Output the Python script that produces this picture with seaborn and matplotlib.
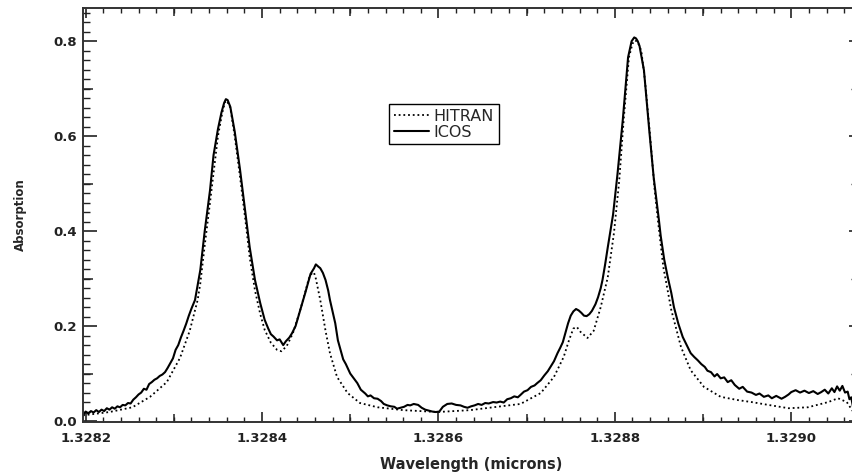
import matplotlib
matplotlib.use('Agg')
import numpy as np
import pandas as pd
import matplotlib.pyplot as plt
from matplotlib.ticker import MultipleLocator, FormatStrFormatter, FixedLocator
import seaborn as sns

# wavelength (microns) and absorption
icos_wl = [
    1.328197, 1.328200, 1.328203, 1.328206, 1.328209, 1.328212, 1.328215, 1.328218,
    1.328221, 1.328224, 1.328227, 1.328230, 1.328233, 1.328236, 1.328239, 1.328242,
    1.328245, 1.328248, 1.328251, 1.328254, 1.328257, 1.328260, 1.328263, 1.328266,
    1.328269, 1.328272, 1.328275, 1.328278, 1.328281, 1.328284, 1.328287, 1.328290,
    1.328293, 1.328296, 1.328299, 1.328302, 1.328305, 1.328308, 1.328311, 1.328314,
    1.328317, 1.328320, 1.328324, 1.328330, 1.328335, 1.328341, 1.328345, 1.328350,
    1.328354, 1.328357, 1.328359, 1.328361, 1.328364, 1.328369, 1.328375, 1.328381,
    1.328386, 1.328392, 1.328398, 1.328403, 1.328407, 1.328410, 1.328413, 1.328417,
    1.328420, 1.328424, 1.328427, 1.328431, 1.328434, 1.328438, 1.328443, 1.328449,
    1.328455, 1.328459, 1.328461, 1.328464, 1.328466, 1.328469, 1.328472, 1.328475,
    1.328477, 1.328480, 1.328483, 1.328486, 1.328489, 1.328492, 1.328495, 1.328500,
    1.328504, 1.328508, 1.328512, 1.328517, 1.328520, 1.328523, 1.328527, 1.328531,
    1.328535, 1.328538, 1.328542, 1.328546, 1.328550, 1.328553, 1.328557, 1.328561,
    1.328565, 1.328568, 1.328572, 1.328577, 1.328581, 1.328585, 1.328589, 1.328593,
    1.328597, 1.328601, 1.328605, 1.328610, 1.328615, 1.328620, 1.328625, 1.328629,
    1.328633, 1.328637, 1.328641, 1.328645, 1.328649, 1.328653, 1.328657, 1.328662,
    1.328666, 1.328670, 1.328674, 1.328678, 1.328682, 1.328686, 1.328690, 1.328693,
    1.328697, 1.328701, 1.328705, 1.328709, 1.328712, 1.328716, 1.328720, 1.328724,
    1.328727, 1.328731, 1.328735, 1.328738, 1.328741, 1.328744, 1.328747, 1.328750,
    1.328753, 1.328756, 1.328759, 1.328762, 1.328765, 1.328768, 1.328771, 1.328774,
    1.328778, 1.328781, 1.328784, 1.328786, 1.328789, 1.328792, 1.328795, 1.328798,
    1.328803, 1.328809, 1.328815, 1.328819, 1.328822, 1.328824, 1.328826, 1.328828,
    1.328833, 1.328839, 1.328844, 1.328850, 1.328852, 1.328856, 1.328860, 1.328864,
    1.328867, 1.328872, 1.328877, 1.328882, 1.328886, 1.328890, 1.328894, 1.328898,
    1.328902, 1.328905, 1.328909, 1.328913, 1.328916, 1.328920, 1.328924, 1.328928,
    1.328932, 1.328936, 1.328941, 1.328945, 1.328950, 1.328955, 1.328960, 1.328964,
    1.328969, 1.328974, 1.328978, 1.328983, 1.328989, 1.328993, 1.328997, 1.329000,
    1.329005, 1.329010, 1.329015, 1.329020, 1.329025, 1.329030, 1.329034, 1.329038,
    1.329042, 1.329046, 1.329049, 1.329052, 1.329055, 1.329058, 1.329061, 1.329064,
    1.329066, 1.329068, 1.329070, 1.329072,
]
icos_abs = [
    0.012, 0.020, 0.016, 0.021, 0.018, 0.023, 0.019, 0.024,
    0.021, 0.027, 0.024, 0.029, 0.026, 0.031, 0.029, 0.034,
    0.033, 0.038, 0.037, 0.045, 0.050, 0.056, 0.060, 0.068,
    0.066, 0.078, 0.082, 0.087, 0.090, 0.095, 0.098, 0.103,
    0.112, 0.122, 0.132, 0.150, 0.160, 0.176, 0.190, 0.205,
    0.222, 0.237, 0.255, 0.318, 0.400, 0.486, 0.560, 0.615,
    0.650, 0.670, 0.678, 0.676, 0.662, 0.610, 0.530, 0.440,
    0.366, 0.297, 0.248, 0.213, 0.195, 0.183, 0.178, 0.170,
    0.172, 0.160, 0.168, 0.176, 0.185, 0.200, 0.232, 0.270,
    0.310, 0.322, 0.330, 0.325, 0.322, 0.312, 0.297, 0.275,
    0.255, 0.230, 0.206, 0.170, 0.150, 0.130, 0.120, 0.100,
    0.090, 0.080, 0.066, 0.058, 0.052, 0.054, 0.048, 0.047,
    0.042, 0.036, 0.033, 0.031, 0.030, 0.026, 0.028, 0.030,
    0.034, 0.033, 0.036, 0.034, 0.028, 0.024, 0.022, 0.020,
    0.019, 0.020, 0.030, 0.036, 0.037, 0.034, 0.033, 0.030,
    0.028, 0.031, 0.033, 0.036, 0.034, 0.038, 0.037, 0.040,
    0.039, 0.041, 0.039, 0.046, 0.048, 0.052, 0.050, 0.055,
    0.062, 0.065, 0.072, 0.075, 0.080, 0.086, 0.096, 0.105,
    0.114, 0.126, 0.143, 0.154, 0.166, 0.186, 0.206, 0.222,
    0.231, 0.236, 0.233, 0.228, 0.222, 0.221, 0.225, 0.232,
    0.246, 0.261, 0.280, 0.297, 0.330, 0.366, 0.400, 0.435,
    0.520, 0.634, 0.766, 0.800, 0.808, 0.806, 0.800, 0.790,
    0.739, 0.613, 0.514, 0.423, 0.390, 0.340, 0.303, 0.270,
    0.240, 0.205, 0.177, 0.158, 0.143, 0.135, 0.128, 0.120,
    0.114, 0.106, 0.103, 0.094, 0.099, 0.090, 0.092, 0.082,
    0.086, 0.076, 0.068, 0.072, 0.062, 0.060, 0.055, 0.058,
    0.051, 0.054, 0.048, 0.053, 0.047, 0.051, 0.056, 0.061,
    0.065, 0.060, 0.064, 0.059, 0.063, 0.057, 0.061, 0.066,
    0.058, 0.069, 0.061, 0.073, 0.064, 0.074, 0.060, 0.062,
    0.046, 0.050, 0.030, 0.018,
]

hitran_wl = [
    1.328197, 1.328227, 1.328253, 1.328273, 1.328292, 1.328307, 1.328318, 1.328327,
    1.328330, 1.328335, 1.328341, 1.328350, 1.328355, 1.328358, 1.328360, 1.328364,
    1.328369, 1.328375, 1.328381, 1.328386, 1.328392, 1.328398, 1.328403, 1.328410,
    1.328417, 1.328422, 1.328428, 1.328435, 1.328443, 1.328449, 1.328453, 1.328457,
    1.328459, 1.328461, 1.328466, 1.328472, 1.328477, 1.328485, 1.328497, 1.328511,
    1.328531, 1.328560, 1.328599, 1.328636, 1.328662, 1.328693, 1.328716, 1.328731,
    1.328742, 1.328748, 1.328753, 1.328757, 1.328761, 1.328769, 1.328776, 1.328784,
    1.328792, 1.328799, 1.328805, 1.328810, 1.328816, 1.328820, 1.328823, 1.328826,
    1.328830, 1.328834, 1.328840, 1.328845, 1.328849, 1.328855, 1.328864, 1.328875,
    1.328886, 1.328901, 1.328920, 1.328940, 1.328955, 1.328974, 1.328997, 1.329019,
    1.329042, 1.329053, 1.329063, 1.329069, 1.329072,
]
hitran_abs = [
    0.012, 0.019, 0.029, 0.051, 0.082, 0.133, 0.190, 0.255,
    0.290, 0.370, 0.460, 0.600, 0.650, 0.672, 0.675, 0.660,
    0.600, 0.515, 0.425, 0.345, 0.275, 0.225, 0.192, 0.165,
    0.150, 0.147, 0.158, 0.185, 0.232, 0.272, 0.300, 0.313,
    0.312, 0.300, 0.255, 0.190, 0.143, 0.093, 0.059, 0.038,
    0.029, 0.023, 0.019, 0.023, 0.029, 0.036, 0.059, 0.093,
    0.135, 0.170, 0.195, 0.198, 0.188, 0.175, 0.190, 0.240,
    0.303, 0.396, 0.507, 0.634, 0.766, 0.795, 0.802, 0.798,
    0.780, 0.720, 0.600, 0.490, 0.420, 0.324, 0.234, 0.156,
    0.107, 0.072, 0.051, 0.044, 0.040, 0.034, 0.027, 0.029,
    0.040, 0.048, 0.040, 0.023, 0.015,
]

x_mid = [1.3283, 1.3285, 1.3287, 1.3289]
y_major = [0.0, 0.2, 0.4, 0.6, 0.8]
y_mid = [0.1, 0.3, 0.5, 0.7]

sns.set_style('ticks')
plt.rcParams['font.family'] = ['DejaVu Sans']

W, H = 853, 475
fig = plt.figure(figsize=(W / 100, H / 100), dpi=100)
ax = fig.add_axes([83 / W, 1 - 422 / H, (856.5 - 83) / W, (422 - 8) / H])

sns.lineplot(x=hitran_wl, y=hitran_abs, ax=ax, color='black', lw=1.3,
             ls=(0, (1, 1.6)), label='HITRAN', estimator=None, sort=False)
sns.lineplot(x=icos_wl, y=icos_abs, ax=ax, color='black', lw=1.5,
             label='ICOS', estimator=None, sort=False)

ax.set_xlim(1.328197, 1.329074)
ax.set_ylim(-0.002, 0.870)

# ticks pointing in: major, minor and a medium set at the half-way marks
ax.xaxis.set_major_locator(MultipleLocator(0.0002))
ax.xaxis.set_minor_locator(MultipleLocator(0.00002))
ax.xaxis.set_major_formatter(FormatStrFormatter('%.4f'))
ax.yaxis.set_major_locator(MultipleLocator(0.2))
ax.yaxis.set_minor_locator(MultipleLocator(0.02))
ax.yaxis.set_major_formatter(FormatStrFormatter('%.1f'))
ax.tick_params(axis='x', which='major', direction='in', length=7.5, width=1.2,
               top=True, bottom=True, pad=7, labelsize=9.5, colors='#222')
ax.tick_params(axis='x', which='minor', direction='in', length=3.8, width=1.0,
               top=True, bottom=True, colors='#222')
ax.tick_params(axis='y', which='major', direction='in', length=10, width=1.2,
               left=True, right=False, pad=4.5, labelsize=9.5, colors='#222')
ax.tick_params(axis='y', which='minor', direction='in', length=5, width=1.0,
               left=True, right=False, colors='#222')
for lab in ax.get_xticklabels() + ax.get_yticklabels():
    lab.set_fontweight('bold')

for side in ['bottom', 'top']:
    sec = ax.secondary_xaxis(side)
    sec.set_xticks(x_mid)
    sec.tick_params(direction='in', length=5.5, width=1.1, colors='#222',
                    labelbottom=False, labeltop=False)
    for sp in sec.spines.values():
        sp.set_visible(False)

sec = ax.secondary_yaxis('left')
sec.set_yticks(y_mid)
sec.tick_params(direction='in', length=7.5, width=1.1, colors='#222',
                labelleft=False)
for sp in sec.spines.values():
    sp.set_visible(False)

# right side: short ticks only, spine just off the picture
sec = ax.secondary_yaxis('right')
sec.set_yticks(y_major)
sec.yaxis.set_minor_locator(FixedLocator(y_mid))
sec.tick_params(which='major', direction='in', length=6, width=1.2,
                colors='#222', labelright=False)
sec.tick_params(which='minor', direction='in', length=4.5, width=1.0,
                colors='#222')
for sp in sec.spines.values():
    sp.set_visible(False)

for sp in ax.spines.values():
    sp.set_linewidth(1.4)
    sp.set_color('#333')

ax.set_xlabel('Wavelength (microns)', fontsize=10.5, fontweight='bold', va='top')
ax.xaxis.set_label_coords(0.5017, -0.085)
ax.set_ylabel('Absorption', fontsize=8.5, fontweight='bold')
ax.yaxis.set_label_coords(-0.072, 0.5)

leg = ax.legend(loc='upper left', bbox_to_anchor=(389 / W, 1 - 104 / H),
                bbox_transform=fig.transFigure, borderaxespad=0, fontsize=11.5,
                handlelength=2.2, handletextpad=0.3, labelspacing=0.05,
                borderpad=0.3, fancybox=False, framealpha=1,
                edgecolor='black')
leg.get_frame().set_linewidth(1.0)

fig.savefig('out.png', dpi=100)
